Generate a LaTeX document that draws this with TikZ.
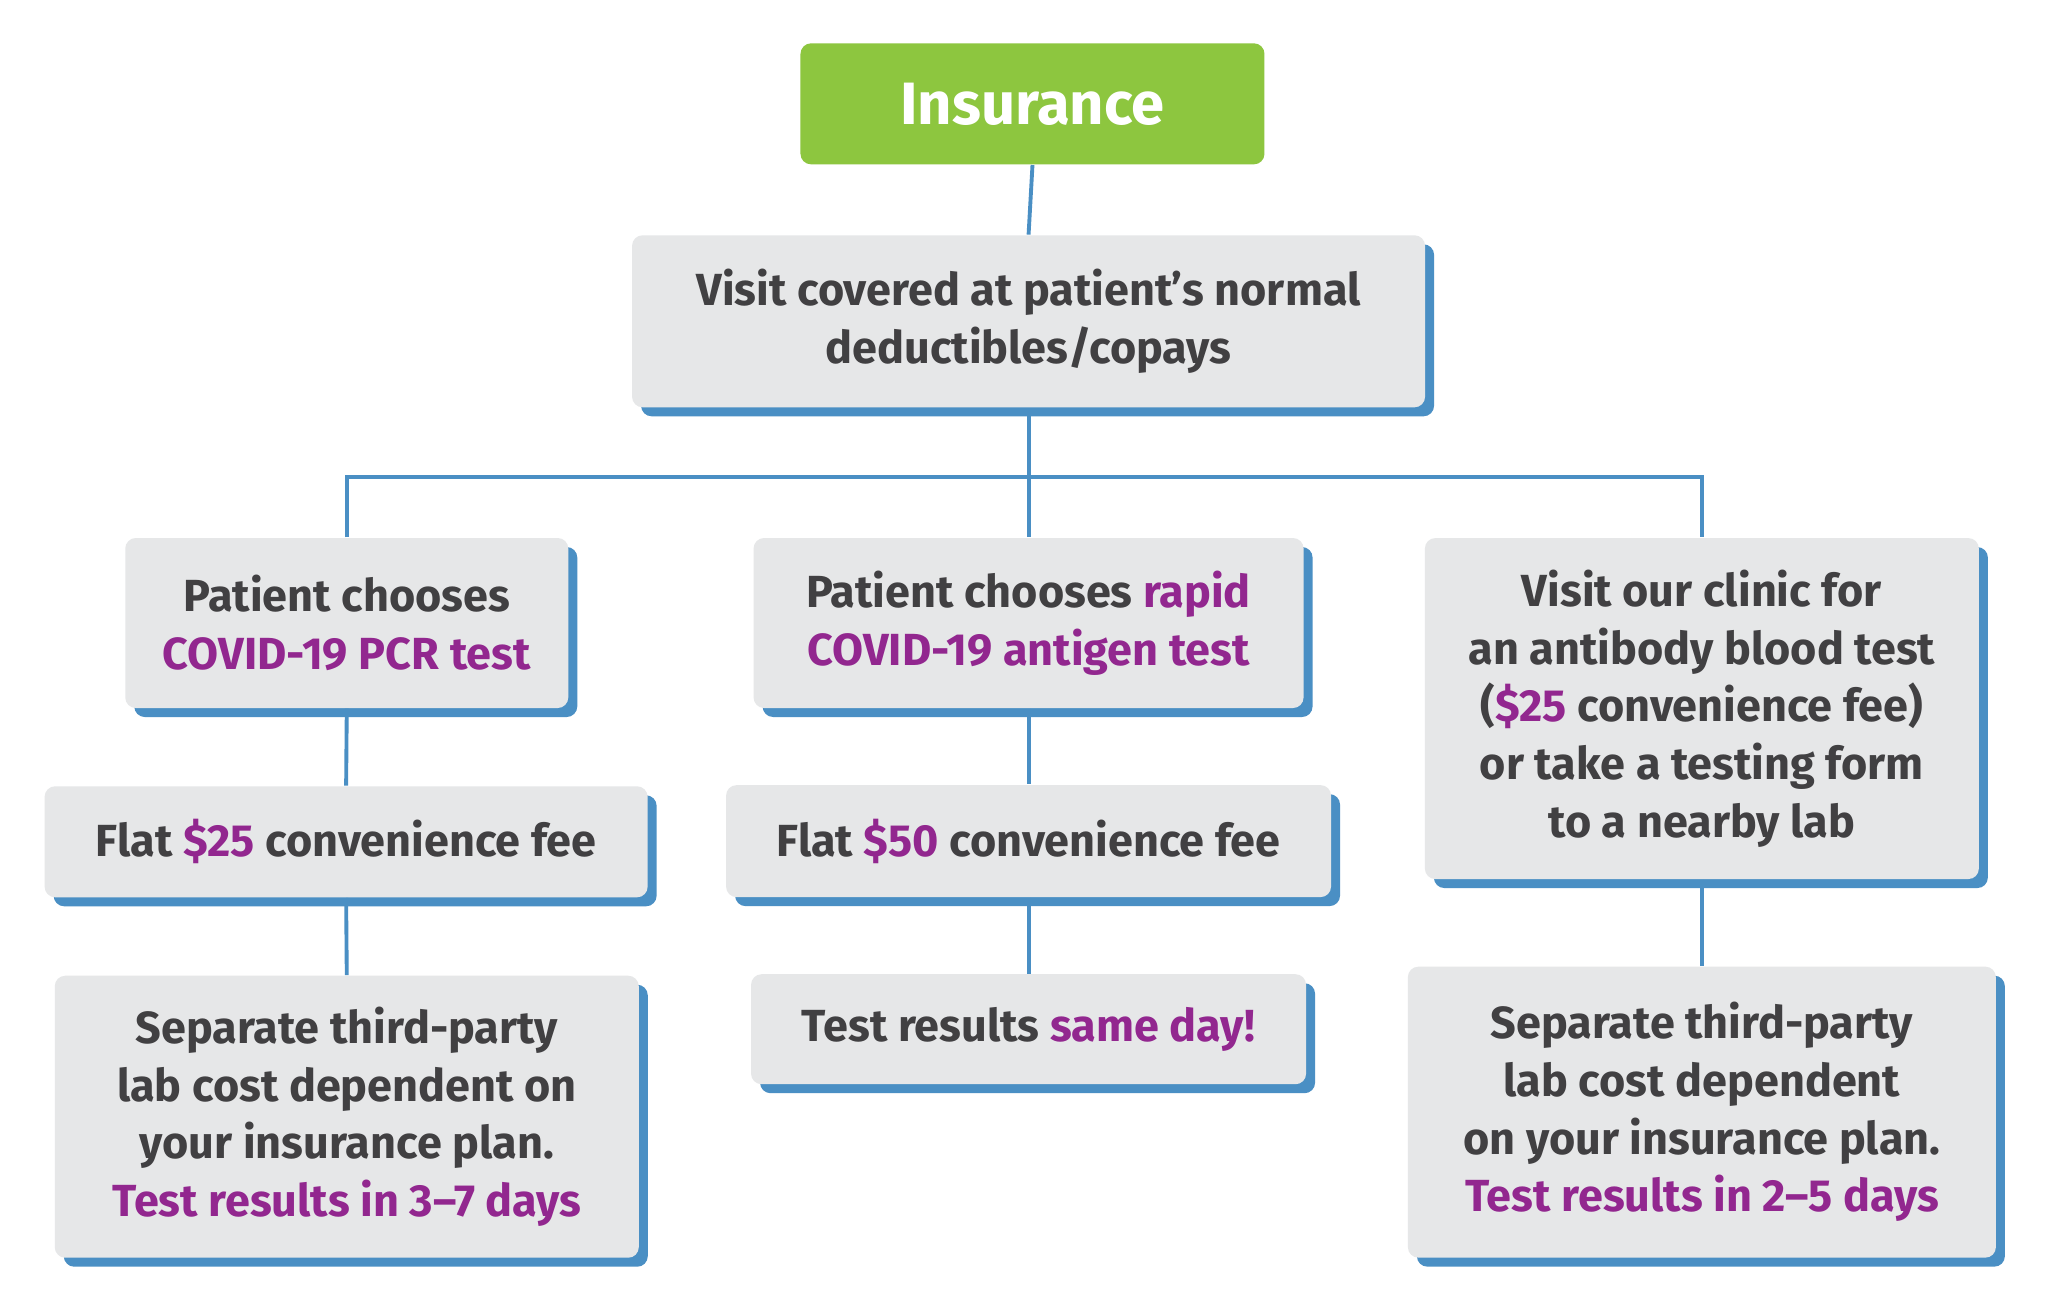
\documentclass[tikz,border=0pt]{standalone}
\usepackage{fontspec}
\setmainfont{Fira Sans}
\usetikzlibrary{shadows}
\definecolor{grn}{HTML}{8DC63F}
\definecolor{gbox}{HTML}{E6E7E8}
\definecolor{shblue}{HTML}{4A8FC4}
\definecolor{txt}{HTML}{414042}
\definecolor{pur}{HTML}{92278F}
\newcommand{\pu}[1]{\textcolor{pur}{#1}}
\tikzset{
  box/.style={fill=gbox, rounded corners=3pt, align=center, inner sep=0pt, text=txt,
    font=\fontsize{12.8}{16.4}\selectfont\bfseries,
    drop shadow={shadow xshift=0.09cm, shadow yshift=-0.09cm, fill=shblue, opacity=1}},
  conn/.style={draw=shblue, line width=1.1pt}
}
\begin{document}
\begin{tikzpicture}[x=0.01306cm, y=-0.01306cm]
\useasboundingbox[fill=white] (0,0) rectangle (1568,1007);
\node[fill=grn, rounded corners=3pt, text=white, minimum width=4.64cm, minimum height=1.21cm,
  font=\fontsize{17}{20}\selectfont\bfseries] (ins) at (790.5,79.5) {Insurance};
\node[box, minimum width=7.93cm, minimum height=1.72cm] (vis) at (787.5,246) {Visit covered at patient’s normal\\deductibles/copays};
\node[box, minimum width=4.43cm, minimum height=1.70cm] (pcr) at (265.5,477) {Patient chooses\\\pu{COVID-19 PCR test}};
\node[box, minimum width=5.50cm, minimum height=1.70cm] (rap) at (787.5,477) {Patient chooses \pu{rapid}\\\pu{COVID-19 antigen test}};
\node[box, minimum width=5.54cm, minimum height=3.41cm] (ab) at (1303,542.5) {Visit our clinic for\\an antibody blood test\\(\pu{\$25} convenience fee)\\or take a testing form\\to a nearby lab};
\node[box, minimum width=6.03cm, minimum height=1.11cm] (f25) at (265,644.5) {Flat \pu{\$25} convenience fee};
\node[box, minimum width=6.05cm, minimum height=1.12cm] (f50) at (787.5,644) {Flat \pu{\$50} convenience fee};
\node[box, minimum width=5.84cm, minimum height=2.82cm] (sl) at (265.5,855) {Separate third-party\\lab cost dependent on\\your insurance plan.\\\pu{Test results in 3–7 days}};
\node[box, minimum width=5.55cm, minimum height=1.10cm] (sd) at (787.5,788) {Test results \pu{same day!}};
\node[box, minimum width=5.88cm, minimum height=2.91cm] (sr) at (1303,851.5) {Separate third-party\\lab cost dependent\\on your insurance plan.\\\pu{Test results in 2–5 days}};
\coordinate (j) at (790,365);
\begin{scope}[on background layer/.try]
\end{scope}
\draw[conn] (ins.south) -- (vis.north);
\draw[conn] (vis.south) -- (rap.north);
\draw[conn] (pcr.north) |- (j) -| (ab.north);
\draw[conn] (pcr.south) -- (f25.north);
\draw[conn] (f25.south) -- (sl.north);
\draw[conn] (rap.south) -- (f50.north);
\draw[conn] (f50.south) -- (sd.north);
\draw[conn] (ab.south) -- (sr.north);
\end{tikzpicture}
\end{document}
